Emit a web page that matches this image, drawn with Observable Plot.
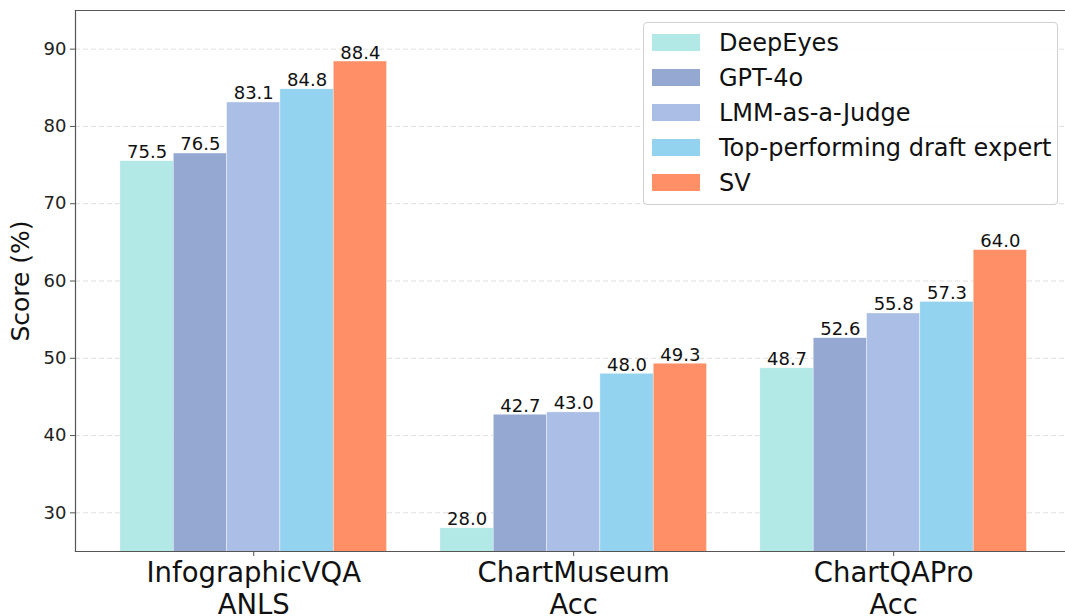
<!DOCTYPE html>
<html>
<head>
<meta charset="utf-8">
<script src="https://cdn.jsdelivr.net/npm/d3@7"></script>
<script src="https://cdn.jsdelivr.net/npm/@observablehq/plot@0.6"></script>
<style>
  html, body { margin: 0; padding: 0; background: #fff; }
  #wrap { position: relative; width: 1065px; height: 616px; overflow: hidden; font-family: "DejaVu Sans", sans-serif; }
  #legend { position: absolute; left: 643px; top: 22px; width: 415px; height: 183px; border: 1px solid #d0d0d0; border-radius: 4px; background: rgba(255,255,255,0.85); box-sizing: border-box; }
  .row { position: absolute; left: 0; height: 35px; display: flex; align-items: center; }
  .sw { position: absolute; left: 8px; width: 48px; height: 17px; }
  .lab { position: absolute; left: 75px; font-size: 24px; color: #111; white-space: nowrap; line-height: 1; }
</style>
</head>
<body>
<div id="wrap"></div>
<script>
const groups = ["InfographicVQA\nANLS", "ChartMuseum\nAcc", "ChartQAPro\nAcc"];
const series = ["DeepEyes", "GPT-4o", "LMM-as-a-Judge", "Top-performing draft expert", "SV"];
const colors = ["#b2e8e6", "#94a8d2", "#abbee6", "#93d3ef", "#ff8f66"];
const deepEyes = [75.5, 28.0, 48.7];
const gpt4o = [76.5, 42.7, 52.6];
const lmmJudge = [83.1, 43.0, 55.8];
const topDraft = [84.8, 48.0, 57.3];
const sv = [88.4, 49.3, 64.0];
const yTicks = [30, 40, 50, 60, 70, 80, 90];
const yLabel = "Score (%)";

const seriesValues = [deepEyes, gpt4o, lmmJudge, topDraft, sv];
const nS = series.length;
const barW = 1 / (nS + 1);
const rows = [];
groups.forEach((g, gi) => {
  series.forEach((s, si) => {
    const off = (si - (nS - 1) / 2) * barW;
    rows.push({group: g, series: s, value: seriesValues[si][gi],
               xc: gi + off, x1: gi + off - barW / 2, x2: gi + off + barW / 2});
  });
});

const font = "DejaVu Sans, sans-serif";
const chart = Plot.plot({
  width: 1065,
  height: 616,
  marginLeft: 75,
  marginRight: 0,
  marginTop: 10,
  marginBottom: 65,
  style: {fontFamily: font, background: "#fff", color: "#222"},
  x: {domain: [-0.557, 2.537]},
  y: {domain: [25, 95]},
  color: {domain: series, range: colors},
  marks: [
    Plot.gridY(yTicks, {stroke: "#d6d6d6", strokeOpacity: 1, strokeDasharray: "5,3", strokeWidth: 0.8}),
    Plot.rectY(rows, {x1: "x1", x2: "x2", y: "value", fill: "series", stroke: "white", strokeWidth: 0.5, strokeOpacity: 0.8, clip: true}),
    Plot.text(rows, {x: "xc", y: "value", text: d => d.value.toFixed(1), dy: -3, lineAnchor: "bottom", textAnchor: "middle", fontSize: 18, fill: "#111"}),
    Plot.axisY(yTicks, {tickSize: 5, tickPadding: 4, fontSize: 18, label: null, stroke: "#555", fill: "#222"}),
    Plot.axisX([0, 1, 2], {tickSize: 5, tickPadding: 3, fontSize: 27.5, lineHeight: 1.15, tickFormat: i => groups[i], label: null, stroke: "#555", fill: "#111"}),
    Plot.text([yLabel], {frameAnchor: "left", rotate: -90, dx: -55, fontSize: 25, fill: "#111", textAnchor: "middle"}),
    Plot.frame({anchor: "left", stroke: "#555", strokeWidth: 1.2}),
    Plot.frame({anchor: "bottom", stroke: "#555", strokeWidth: 1.2}),
    Plot.frame({anchor: "top", stroke: "#555", strokeWidth: 1.2})
  ]
});
const wrap = document.getElementById("wrap");
wrap.appendChild(chart);

const legend = document.createElement("div");
legend.id = "legend";
series.forEach((s, i) => {
  const row = document.createElement("div");
  row.className = "row";
  row.style.top = (2 + i * 35) + "px";
  row.style.width = "100%";
  const sw = document.createElement("div");
  sw.className = "sw";
  sw.style.background = colors[i];
  const lab = document.createElement("div");
  lab.className = "lab";
  lab.textContent = s;
  row.appendChild(sw);
  row.appendChild(lab);
  legend.appendChild(row);
});
wrap.appendChild(legend);
</script>
</body>
</html>
